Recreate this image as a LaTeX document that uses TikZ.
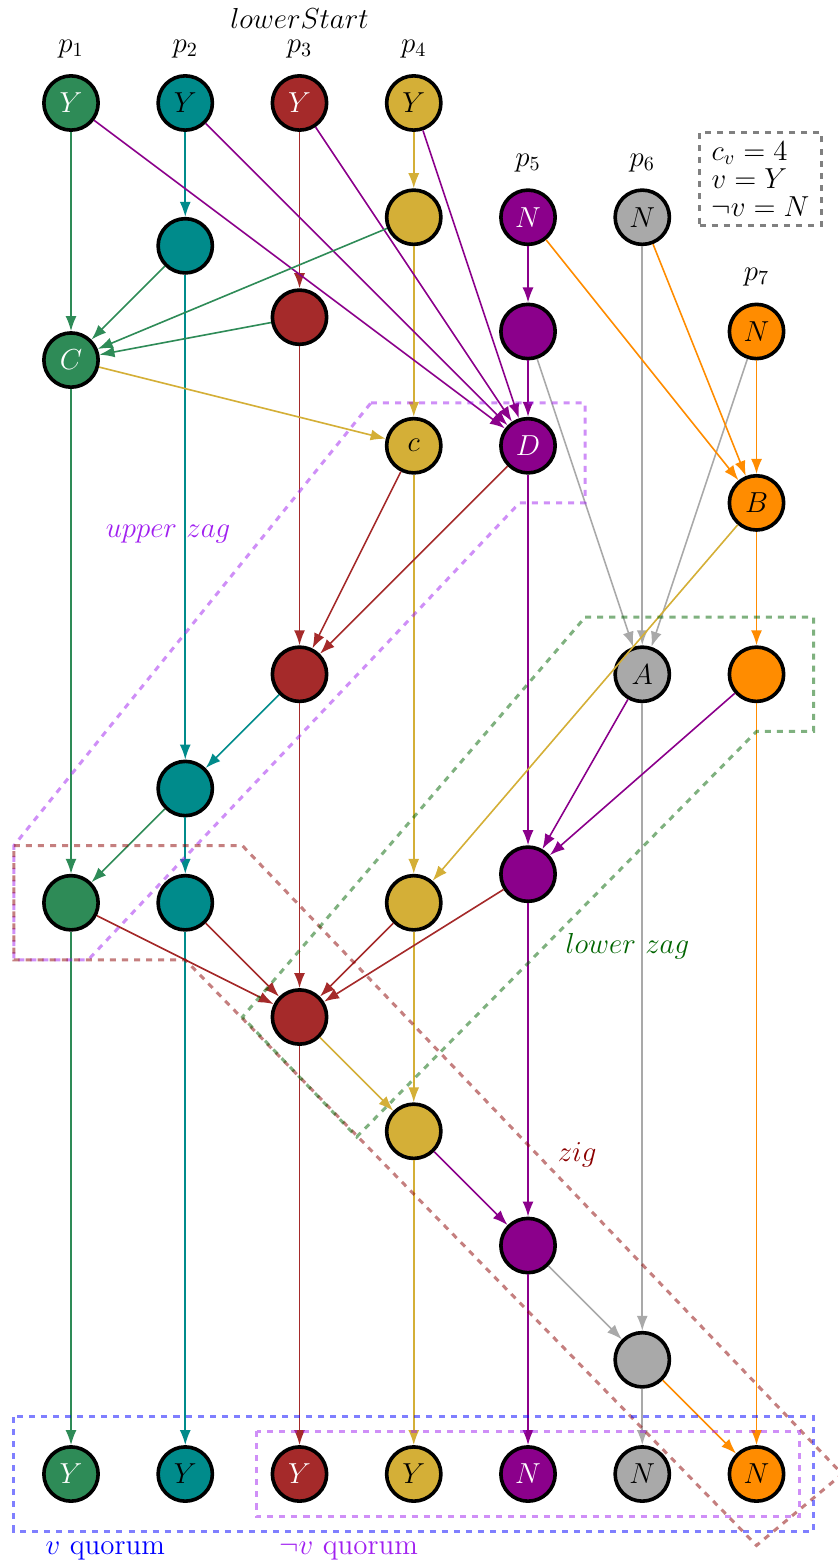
\documentclass[tikz,border=0pt]{standalone}
\usepackage{amsmath}
\usetikzlibrary{arrows.meta}
\definecolor{G}{RGB}{46, 139, 87}
\definecolor{T}{RGB}{0, 139, 139}
\definecolor{R}{RGB}{165, 42, 42}
\definecolor{Au}{RGB}{212, 175, 55}
\definecolor{M}{RGB}{139, 0, 139}
\definecolor{S}{RGB}{169, 169, 169}
\definecolor{O}{RGB}{255, 140, 0}
\definecolor{V}{RGB}{160, 32, 240}
\definecolor{DG}{RGB}{0, 100, 0}
\definecolor{DR}{RGB}{139, 0, 0}
\definecolor{B}{RGB}{0, 0, 255}
\tikzset{
   ev/.style={circle, draw=black, line width=1.8pt, minimum size=0.95cm, inner sep=0pt, fill=#1},
   msg/.style={thick, -{Latex[length=7.5pt,width=5.5pt]}},
   zag/.style={dashed, line width=1.5pt, draw opacity=0.5}
}

\begin{document}
\begin{tikzpicture}[font=\Large]
   \useasboundingbox (-1.243,-25.645) rectangle (13.426,1.803);
   % processes
   \node[ev=G, text=white] (p1a) at (0,0) {$Y$};
   \node[ev=G, text=white] (p1b) at (0,-4.5) {$C$};
   \node[ev=G] (p1c) at (0,-14) {};
   \node[ev=G, text=white] (p1d) at (0,-24) {$Y$};
   \node[ev=T] (p2a) at (2,0) {$Y$};
   \node[ev=T] (p2b) at (2,-2.5) {};
   \node[ev=T] (p2c) at (2,-12) {};
   \node[ev=T] (p2d) at (2,-14) {};
   \node[ev=T] (p2e) at (2,-24) {$Y$};
   \node[ev=R, text=white] (p3a) at (4,0) {$Y$};
   \node[ev=R] (p3b) at (4,-3.75) {};
   \node[ev=R] (p3c) at (4,-10) {};
   \node[ev=R] (p3d) at (4,-16) {};
   \node[ev=R, text=white] (p3e) at (4,-24) {$Y$};
   \node[ev=Au] (p4a) at (6,0) {$Y$};
   \node[ev=Au] (p4b) at (6,-2) {};
   \node[ev=Au] (p4c) at (6,-6) {$c$};
   \node[ev=Au] (p4d) at (6,-14) {};
   \node[ev=Au] (p4e) at (6,-18) {};
   \node[ev=Au] (p4f) at (6,-24) {$Y$};
   \node[ev=M, text=white] (p5a) at (8,-2) {$N$};
   \node[ev=M] (p5b) at (8,-4) {};
   \node[ev=M, text=white] (p5c) at (8,-6) {$D$};
   \node[ev=M] (p5d) at (8,-13.5) {};
   \node[ev=M] (p5e) at (8,-20) {};
   \node[ev=M, text=white] (p5f) at (8,-24) {$N$};
   \node[ev=S] (p6a) at (10,-2) {$N$};
   \node[ev=S] (p6b) at (10,-10) {$A$};
   \node[ev=S] (p6c) at (10,-22) {};
   \node[ev=S] (p6d) at (10,-24) {$N$};
   \node[ev=O] (p7a) at (12,-4) {$N$};
   \node[ev=O] (p7b) at (12,-7) {$B$};
   \node[ev=O] (p7c) at (12,-10) {};
   \node[ev=O] (p7d) at (12,-24) {$N$};
   % labels
   \node (l1) at (0,0.95) {$p_1$};
   \node (l2) at (2,0.95) {$p_2$};
   \node (l3) at (4,0.95) {$p_3$};
   \node (l4) at (6,0.95) {$p_4$};
   \node (l5) at (8,-1.05) {$p_5$};
   \node (l6) at (10,-1.05) {$p_6$};
   \node (l7) at (12,-3.05) {$p_7$};
   \node (ls) at (4,1.48) {$lowerStart$};
   \node[draw=gray, dashed, line width=1.5pt, align=left, inner xsep=6pt, inner ysep=4.5pt,
      font=\fontsize{14.4}{14}\selectfont] (key) at (12.07,-1.33) {$c_v = 4$\\$v = Y$\\$\neg v = N$};
   % timelines
   \foreach \a/\b in {p1a/p1b, p1b/p1c, p1c/p1d}
      \draw[msg, G] (\a) -- (\b);
   \foreach \a/\b in {p2a/p2b, p2b/p2c, p2c/p2d, p2d/p2e}
      \draw[msg, T] (\a) -- (\b);
   \foreach \a/\b in {p3a/p3b, p3b/p3c, p3c/p3d, p3d/p3e}
      \draw[msg, R] (\a) -- (\b);
   \foreach \a/\b in {p4a/p4b, p4b/p4c, p4c/p4d, p4d/p4e, p4e/p4f}
      \draw[msg, Au] (\a) -- (\b);
   \foreach \a/\b in {p5a/p5b, p5b/p5c, p5c/p5d, p5d/p5e, p5e/p5f}
      \draw[msg, M] (\a) -- (\b);
   \foreach \a/\b in {p6a/p6b, p6b/p6c, p6c/p6d}
      \draw[msg, S] (\a) -- (\b);
   \foreach \a/\b in {p7a/p7b, p7b/p7c, p7c/p7d}
      \draw[msg, O] (\a) -- (\b);
   % messages
   \foreach \a in {p1a, p2a, p3a, p4a}
      \draw[msg, M] (\a) -- (p5c);
   \foreach \a in {p2b, p4b, p3b}
      \draw[msg, G] (\a) -- (p1b);
   \draw[msg, Au] (p1b) -- (p4c);
   \draw[msg, S] (p5b) -- (p6b);
   \draw[msg, S] (p7a) -- (p6b);
   \draw[msg, O] (p5a) -- (p7b);
   \draw[msg, O] (p6a) -- (p7b);
   \draw[msg, R] (p4c) -- (p3c);
   \draw[msg, R] (p5c) -- (p3c);
   \draw[msg, Au] (p7b) -- (p4d);
   \draw[msg, M] (p6b) -- (p5d);
   \draw[msg, M] (p7c) -- (p5d);
   \draw[msg, T] (p3c) -- (p2c);
   \draw[msg, G] (p2c) -- (p1c);
   \foreach \a in {p1c, p2d, p4d, p5d}
      \draw[msg, R] (\a) -- (p3d);
   \draw[msg, Au] (p3d) -- (p4e);
   \draw[msg, M] (p4e) -- (p5e);
   \draw[msg, S] (p5e) -- (p6c);
   \draw[msg, O] (p6c) -- (p7d);
   % zig and zags
   \draw[zag, V] (5.25,-5.25) -- (9,-5.25) -- (9,-7) -- (7.85,-7) -- (0.3,-15) -- (-1,-15) -- (-1,-13) -- cycle;
   \draw[zag, DR] (-1,-13) -- (3,-13) -- (13.5,-24) -- (12,-25.25) -- (2,-15) -- (-1,-15) -- cycle;
   \draw[zag, DG] (9,-9) -- (13,-9) -- (13,-11) -- (12,-11) -- (5,-18.1) -- (3,-16) -- cycle;
   \draw[zag, B] (-1,-23) rectangle (13,-25);
   \draw[zag, V] (3.25,-23.25) rectangle (12.75,-24.75);
   \node[V] (uz) at (1.7,-7.55) {$upper\ zag$};
   \node[DG] (lz) at (9.74,-14.77) {$lower\ zag$};
   \node[DR] (zg) at (8.86,-18.41) {$zig$};
   \node[B] (vq) at (0.6,-25.35) {$v$ quorum};
   \node[V] (nq) at (4.86,-25.35) {$\neg v$ quorum};
\end{tikzpicture}
\end{document}
